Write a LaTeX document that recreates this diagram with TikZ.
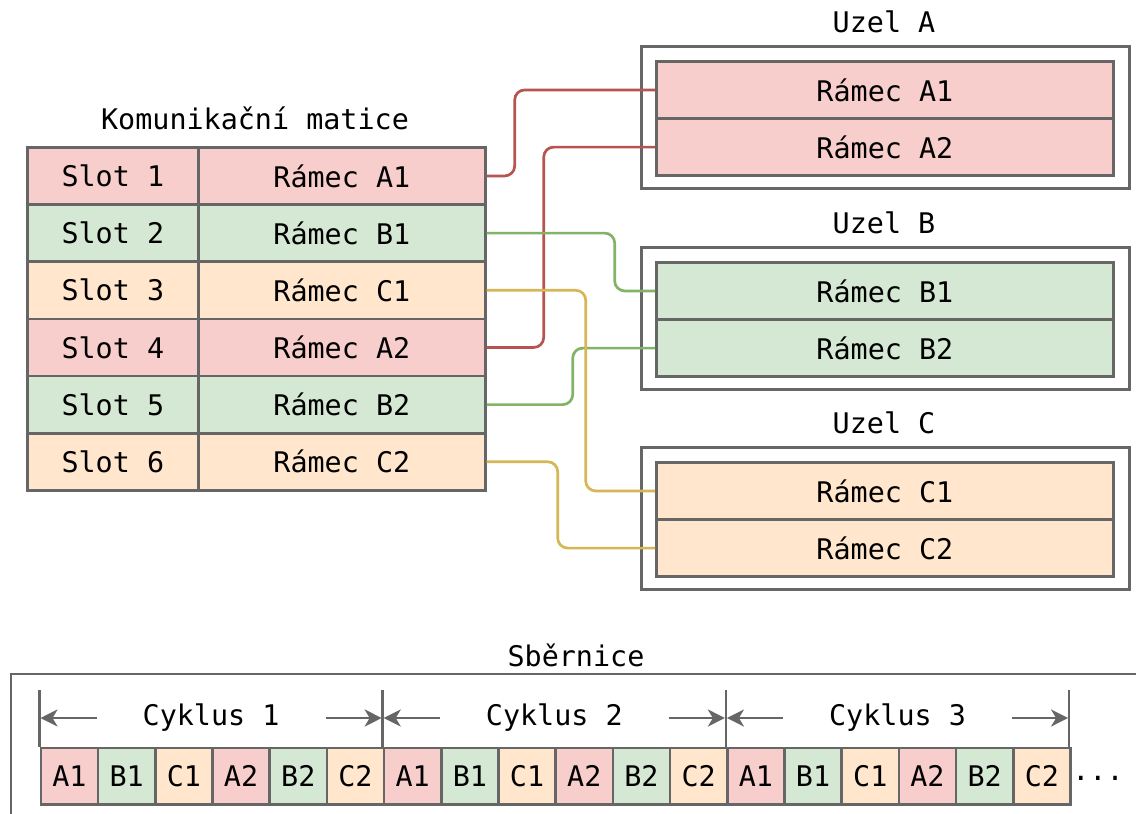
\documentclass[tikz,border=0pt]{standalone}
\usepackage{fontspec}
\setmainfont{DejaVu Sans Mono}
\usetikzlibrary{arrows.meta,calc}
\definecolor{rfill}{HTML}{F8CECC}
\definecolor{rline}{HTML}{B85450}
\definecolor{gfill}{HTML}{D5E8D4}
\definecolor{gline}{HTML}{82B366}
\definecolor{ofill}{HTML}{FFE6CC}
\definecolor{oline}{HTML}{D6B656}
\definecolor{frame}{HTML}{666666}
\tikzset{
  txt/.style={font=\fontsize{28.4pt}{34pt}\selectfont, inner sep=0pt},
  cell/.style={txt, draw=frame, line width=2.7pt, anchor=north west, minimum height=57.17pt},
  scell/.style={cell, minimum width=171pt},
  rcell/.style={cell, minimum width=287pt},
  ncell/.style={cell, minimum width=457pt},
  bcell/.style={cell, minimum width=57.2pt, minimum height=56.5pt},
  outer/.style={draw=frame, line width=2.7pt},
  conn/.style={line width=2.7pt, rounded corners=10pt},
  dim/.style={draw=frame, line width=2.7pt, -{Stealth[length=17pt, width=17pt, inset=5pt]}},
  tick/.style={draw=frame, line width=2.7pt},
}
\begin{document}
\begin{tikzpicture}[x=1pt, y=-1pt]
\clip (0,0) rectangle (1136,814);
\fill[white] (0,0) rectangle (1136,814);

% Komunikacni matice
\node[txt] (mtitle) at (255,118) {Komunikační matice};
\foreach \i/\c/\f in {1/A1/rfill, 2/B1/gfill, 3/C1/ofill, 4/A2/rfill, 5/B2/gfill, 6/C2/ofill}{
  \node[scell, fill=\f] (s\i) at (26,{146+57.17*(\i-1)}) {Slot \i};
  \node[rcell, fill=\f] (r\i) at (197,{146+57.17*(\i-1)}) {Rámec \c};
}

% Uzly
\foreach \n/\y/\f in {A/45/rfill, B/246/gfill, C/446/ofill}{
  \node[txt] (t\n) at (884,{\y-23}) {Uzel \n};
  \node[outer, minimum width=488pt, minimum height=142pt, anchor=north west, inner sep=0pt] (u\n) at (640,\y) {};
  \node[ncell, fill=\f] (\n1) at (655,{\y+15}) {Rámec \n1};
  \node[ncell, fill=\f] (\n2) at (655,{\y+72.17}) {Rámec \n2};
}

% Spoje
\draw[conn, rline] (r1.east) -- ++(28,0) |- (A1.west);
\draw[conn, rline] (r4.east) -- ++(57,0) |- (A2.west);
\draw[conn, gline] (r2.east) -- ++(128,0) |- (B1.west);
\draw[conn, gline] (r5.east) -- ++(86,0) |- (B2.west);
\draw[conn, oline] (r3.east) -- ++(99,0) |- (C1.west);
\draw[conn, oline] (r6.east) -- ++(71,0) |- (C2.west);

% Sbernice
\node[txt] (btitle) at (576,655) {Sběrnice};
\draw[outer] (11,830) -- (11,674) -- (1150,674);
\foreach \k in {0,1,2}{
  \foreach \j/\c/\f in {0/A1/rfill, 1/B1/gfill, 2/C1/ofill, 3/A2/rfill, 4/B2/gfill, 5/C2/ofill}{
    \node[bcell, fill=\f] (b\k\j) at ({39.5+57.2*(6*\k+\j)},746.5) {\c};
  }
}
\foreach \k/\lab in {0/1,1/2,2/3}{
  \coordinate (cs\k) at ({39.5+343.2*\k},690);
  \coordinate (ce\k) at ({39.5+343.2*(\k+1)},690);
  \draw[tick] (cs\k) -- ++(0,56.5);
  \draw[tick] (ce\k) -- ++(0,56.5);
  \node[txt] (cy\k) at ({39.5+343.2*\k+171.6},718) {Cyklus \lab};
  \draw[dim] ($(cs\k)+(57,28)$) -- ($(cs\k)+(1,28)$);
  \draw[dim] ($(ce\k)+(-57,28)$) -- ($(ce\k)+(-1,28)$);
}
\node[txt] (dots) at (1098,778) {...};
\end{tikzpicture}
\end{document}
